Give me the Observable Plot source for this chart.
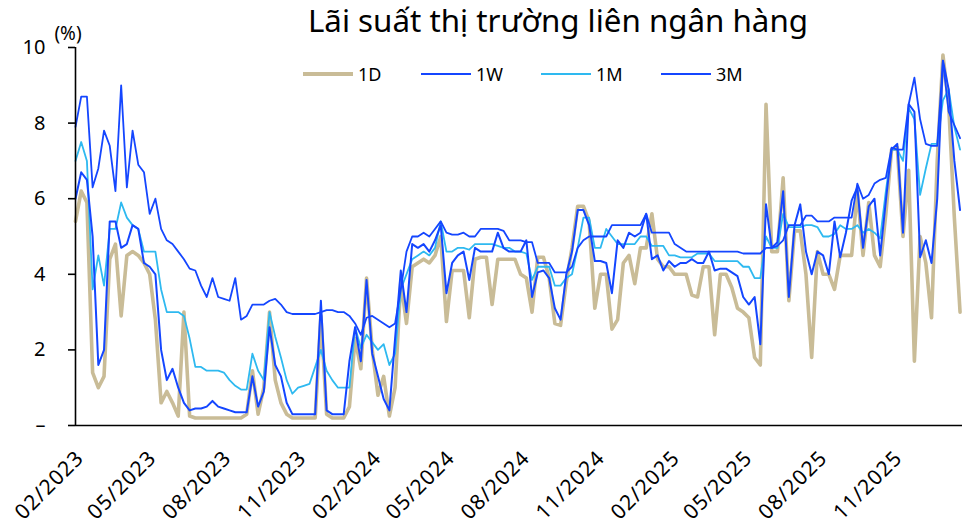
<!DOCTYPE html>
<html>
<head>
<meta charset="utf-8">
<script src="https://cdn.jsdelivr.net/npm/d3@7"></script>
<script src="https://cdn.jsdelivr.net/npm/@observablehq/plot@0.6"></script>
<style>
  html, body { margin: 0; padding: 0; background: #fff; }
  #wrap { position: relative; width: 966px; height: 525px; font-family: "Noto Sans", sans-serif; color: #000; }
  #title { position: absolute; left: 158px; width: 800px; top: 5px; text-align: center; font-size: 31.3px; line-height: 31px; }
  #unit { position: absolute; left: 48px; width: 40px; text-align: center; top: 22px; font-size: 19px; line-height: 22px; }
  .leg { position: absolute; top: 64px; height: 20px; display: flex; align-items: center; font-size: 18px; }
  .leg span.sw { display: inline-block; width: 50px; margin-right: 5px; }
  #chart { position: absolute; left: 0; top: 0; }
  #chart g[aria-label="x-axis tick label"] text { letter-spacing: 1px; }
</style>
</head>
<body>
<div id="wrap">
  <div id="chart"></div>
  <div id="title">Lãi suất thị trường liên ngân hàng</div>
  <div id="unit">(%)</div>
  <div id="legend"></div>
</div>
<script>
// Weekly observations starting from this date
const weekStart = "2023-01-30";
const axisEnd = "2026-01-22";

const seriesNames = ["1D", "1W", "1M", "3M"];
const seriesColors = ["#c9bc97", "#1446ff", "#2eb9f0", "#1446ff"];

const xTickLabels = ["02/2023","05/2023","08/2023","11/2023","02/2024","05/2024","08/2024","11/2024","02/2025","05/2025","08/2025","11/2025"];
const yTicks = [0, 2, 4, 6, 8, 10];

const d1D = [
  5.4, 6.2, 5.9, 1.4, 1.0, 1.3, 4.4, 4.8, 2.9, 4.5,
  4.6, 4.5, 4.3, 4.0, 2.8, 0.6, 0.9, 0.6, 0.25, 3.0,
  0.25, 0.2, 0.2, 0.2, 0.2, 0.2, 0.2, 0.2, 0.2, 0.2,
  0.3, 1.45, 0.3, 1.0, 3.0, 1.2, 0.6, 0.3, 0.2, 0.2,
  0.2, 0.2, 0.2, 2.9, 0.3, 0.2, 0.2, 0.2, 0.5, 2.3,
  1.5, 3.9, 2.0, 0.8, 1.3, 0.25, 1.0, 3.8, 2.7, 4.2,
  4.3, 4.4, 4.3, 4.5, 5.0, 2.75, 4.1, 4.1, 4.1, 2.85,
  4.4, 4.45, 4.45, 3.2, 4.4, 4.4, 4.4, 4.4, 4.0, 3.9,
  3.0, 4.45, 4.45, 3.9, 2.7, 2.65, 3.8, 4.7, 5.8, 5.8,
  5.4, 3.1, 4.0, 4.0, 2.55, 2.8, 4.3, 4.5, 3.75, 4.7,
  4.7, 5.6, 4.4, 4.2, 4.2, 4.0, 4.0, 4.0, 3.45, 3.4,
  4.2, 4.2, 2.4, 4.0, 4.0, 3.65, 3.1, 3.0, 2.85, 1.8,
  1.6, 8.5, 4.6, 4.6, 6.55, 3.3, 5.15, 5.15, 4.0, 1.8,
  4.6, 4.0, 4.0, 3.6, 4.5, 4.5, 4.5, 6.2, 4.5, 5.9,
  4.5, 4.2, 5.6, 7.3, 7.35, 5.0, 6.75, 1.7, 5.0, 4.3,
  2.85, 7.0, 9.8, 8.5, 5.5, 3.0
];
const d1W = [
  6.0, 6.7, 6.5, 5.0, 1.6, 2.0, 5.4, 5.4, 4.7, 4.8,
  5.3, 5.2, 4.3, 4.2, 4.0, 2.0, 1.2, 1.5, 1.0, 0.6,
  0.4, 0.45, 0.45, 0.5, 0.65, 0.5, 0.45, 0.4, 0.35, 0.35,
  0.35, 1.3, 0.5, 0.9, 2.6, 1.6, 1.3, 0.6, 0.3, 0.3,
  0.3, 0.3, 0.3, 3.3, 0.4, 0.3, 0.3, 0.3, 1.7, 2.6,
  1.7, 3.85, 1.9, 1.3, 0.7, 0.4, 2.3, 4.1, 3.0, 4.8,
  4.7, 4.8, 4.6, 4.9, 5.3, 3.5, 4.3, 4.5, 4.6, 3.85,
  4.7, 4.6, 4.6, 4.6, 5.1, 4.7, 4.6, 4.6, 4.6, 4.9,
  3.4, 4.05, 4.1, 3.9, 3.1, 2.8, 4.0, 4.6, 5.7, 5.7,
  5.3, 4.35, 4.35, 4.3, 3.5, 4.9, 4.7, 5.1, 5.0, 5.1,
  5.6, 4.4, 4.5, 4.1, 4.35, 4.2, 4.3, 4.3, 4.4, 4.3,
  4.3, 4.6, 4.1, 4.15, 4.15, 4.05, 3.95, 3.4, 3.2, 3.4,
  2.15, 5.85, 4.7, 4.85, 6.2, 3.4, 5.3, 5.85, 4.6, 4.0,
  4.6, 4.5, 4.0, 5.4, 4.45, 5.1, 5.95, 6.3, 4.7, 5.8,
  6.0, 4.5, 5.95, 7.3, 7.45, 5.1, 8.5, 8.3, 4.45, 4.9,
  4.3, 6.0, 9.65, 8.9, 7.0, 5.7
];
const d1M = [
  7.0, 7.5, 7.0, 3.6, 4.5, 3.7, 5.2, 5.2, 5.9, 5.5,
  5.3, 5.2, 4.6, 4.6, 4.6, 3.6, 3.0, 3.0, 3.0, 2.9,
  2.3, 1.55, 1.55, 1.45, 1.45, 1.45, 1.4, 1.2, 1.05, 0.95,
  0.95, 1.9, 1.45, 1.2, 3.0, 2.35, 1.8, 1.2, 0.84, 1.0,
  1.05, 1.1, 1.55, 2.0, 1.45, 1.2, 1.0, 1.0, 1.0, 2.6,
  2.05, 2.4, 2.2, 2.0, 2.15, 1.6, 1.9, 3.6, 4.0, 4.4,
  4.5, 4.6, 4.5, 4.7, 5.4, 4.6, 4.6, 4.7, 4.7, 4.65,
  4.8, 4.8, 4.8, 4.8, 4.75, 4.7, 4.7, 4.6, 4.6, 4.55,
  3.85, 4.2, 4.2, 4.2, 3.7, 3.7, 3.9, 4.0, 4.7, 5.5,
  5.5, 4.7, 4.7, 5.2, 5.0, 4.8, 4.8, 4.8, 4.8, 5.0,
  5.0, 4.75, 4.75, 4.75, 4.5, 4.5, 4.45, 4.45, 4.45, 4.55,
  4.55, 4.55, 4.35, 4.35, 4.35, 4.35, 4.35, 4.2, 4.2, 3.9,
  3.9, 5.0, 4.7, 4.7, 5.6, 5.25, 5.25, 5.25, 5.3, 5.3,
  5.25, 5.0, 5.0, 5.07, 5.3, 5.2, 5.2, 5.3, 5.1, 5.2,
  5.1, 4.95, 6.2, 7.3, 7.3, 7.0, 8.4, 8.1, 6.1, 6.8,
  7.45, 7.45, 8.6, 8.9, 7.9, 7.3
];
const d3M = [
  7.9, 8.7, 8.7, 6.3, 6.8, 7.8, 7.4, 6.2, 9.0, 6.3,
  7.8, 6.9, 6.7, 5.6, 6.0, 5.2, 4.9, 4.8, 4.6, 4.4,
  4.15, 4.1, 3.7, 3.4, 3.9, 3.4, 3.35, 3.3, 3.9, 2.8,
  2.9, 3.2, 3.2, 3.2, 3.3, 3.35, 3.2, 3.0, 2.95, 2.95,
  2.95, 2.95, 2.95, 3.0, 3.05, 3.05, 3.0, 3.0, 2.9, 2.7,
  2.4, 2.85, 2.9, 2.8, 2.7, 2.6, 2.7, 3.6, 4.6, 5.0,
  5.0, 5.1, 5.0, 5.2, 5.4, 5.1, 5.05, 5.05, 5.1, 5.0,
  5.0, 5.2, 5.2, 5.2, 5.2, 5.15, 4.9, 4.9, 4.9, 4.85,
  4.85, 4.3, 4.3, 4.3, 4.05, 4.05, 4.05, 4.2, 4.7, 4.9,
  5.0, 5.0, 5.0, 5.0, 5.3, 5.3, 5.3, 5.3, 5.3, 5.3,
  5.6, 5.1, 5.1, 5.1, 5.1, 4.8, 4.7, 4.6, 4.6, 4.6,
  4.6, 4.6, 4.6, 4.6, 4.6, 4.6, 4.6, 4.55, 4.55, 4.55,
  4.55, 4.7, 4.7, 4.75, 4.9, 5.3, 5.3, 5.3, 5.55, 5.55,
  5.4, 5.4, 5.4, 5.5, 5.5, 5.5, 5.5, 6.4, 6.0, 6.1,
  6.4, 6.5, 6.55, 7.35, 7.3, 7.3, 8.5, 9.2, 8.1, 7.45,
  7.4, 7.4, 9.65, 8.3, 7.95, 7.6
];

const seriesValues = [d1D, d1W, d1M, d3M];
const seriesWidths = [3.6, 2, 1.8, 1.8];

const parseDay = d3.utcParse("%Y-%m-%d");
const parseMonth = d3.utcParse("%m/%Y");
const start = parseDay(weekStart);
const end = parseDay(axisEnd);
const xTicks = xTickLabels.map(parseMonth);

function rowsFor(k) {
  return seriesValues[k].map((v, i) => ({date: d3.utcDay.offset(start, 7 * i), value: v, series: seriesNames[k]}));
}

// draw order: 1D at bottom, then 1M, 3M, 1W
const order = [0, 2, 3, 1];
const lineMarks = order.map(k => Plot.lineY(rowsFor(k), {
  x: "date", y: "value", stroke: seriesColors[k], strokeWidth: seriesWidths[k],
  strokeLinejoin: "round", strokeLinecap: "round"
}));

const chart = Plot.plot({
  width: 966,
  height: 525,
  marginLeft: 75,
  marginRight: 4,
  marginTop: 47,
  marginBottom: 100,
  style: {fontFamily: "'Noto Sans', sans-serif", color: "#000", background: "transparent"},
  x: {type: "utc", domain: [start, end]},
  y: {domain: [0, 10]},
  marks: [
    ...lineMarks,
    Plot.ruleY([0], {stroke: "#000", strokeWidth: 1.6}),
    Plot.ruleX([start], {y1: 0, y2: 10, stroke: "#000", strokeWidth: 1.6}),
    Plot.axisY({ticks: yTicks, tickSize: 7, tickPadding: 23, strokeWidth: 1.6, fontSize: 20,
      tickFormat: d => d === 0 ? "–" : String(d), label: null}),
    Plot.axisX({ticks: xTicks, tickFormat: d3.utcFormat("%m/%Y"), tickRotate: -45, tickSize: 0,
      tickPadding: 29, dx: 3, fontSize: 21, label: null})
  ]
});
document.getElementById("chart").appendChild(chart);

// legend
const legendX = [303, 421, 541, 661];
const legend = document.getElementById("legend");
seriesNames.forEach((name, k) => {
  const item = document.createElement("div");
  item.className = "leg";
  item.style.left = legendX[k] + "px";
  const sw = document.createElement("span");
  sw.className = "sw";
  sw.style.height = (k === 0 ? 4 : 2) + "px";
  sw.style.background = seriesColors[k];
  item.appendChild(sw);
  item.appendChild(document.createTextNode(name));
  legend.appendChild(item);
});
</script>
</body>
</html>
